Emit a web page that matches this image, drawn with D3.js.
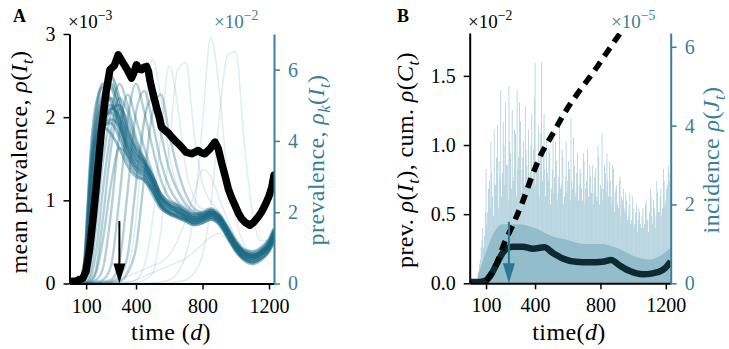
<!DOCTYPE html>
<meta charset="utf-8">
<script src="https://d3js.org/d3.v7.min.js"></script>
<style>
  body { margin: 0; background: white; }
  svg { font-family: 'Liberation Serif', 'Times New Roman', serif; }
  .tick text { font-size: 20px; }
  .domain { stroke-width: 2px; }
  .tick line { stroke-width: 1.5px; }
</style>
<div id="chart"></div>
<script>
// ---------- data ----------
// panel A: mean prevalence rho(I_t), x10^-3
const meanDays = [0,40,60,80,100,120,140,160,192,220,243,270,293,308,323,345,373,390,403,418,433,448,463,475,483,500,523,540,553,575,594,615,634,655,674,700,734,755,774,795,814,845,875,895,915,935,955,975,995,1015,1035,1060,1085,1110,1135,1155,1176,1196,1216,1230];
const meanPrev = [0.02,0.03,0.05,0.06,0.15,0.4,0.75,1.15,1.84,2.3,2.57,2.62,2.75,2.7,2.65,2.58,2.47,2.55,2.63,2.58,2.57,2.6,2.61,2.55,2.45,2.3,2.12,2.0,1.88,1.84,1.81,1.76,1.72,1.68,1.64,1.58,1.56,1.58,1.60,1.57,1.56,1.62,1.70,1.62,1.45,1.3,1.14,1.03,0.94,0.85,0.78,0.73,0.70,0.74,0.80,0.86,0.94,1.03,1.15,1.3];

// panel A: single runs rho_k(I_t), x10^-2, sampled at runDays
const runDays = [0,60,90,110,130,160,200,250,300,350,400,450,500,550,600,650,700,750,800,850,900,950,1000,1050,1100,1150,1200,1230];
const runsEarly = [
  [0,0.05,0.4,1.5,3.0,4.2,5.0,5.2,4.6,3.9,3.5,3.3,2.8,2.3,2.1,2.0,1.9,1.8,1.85,1.95,1.8,1.4,1.0,0.8,0.75,0.85,1.1,1.4],
  [0,0.05,0.3,1.2,2.6,3.9,4.6,4.8,4.3,3.6,3.2,3.0,2.6,2.2,2.0,1.9,1.8,1.7,1.75,1.85,1.7,1.3,0.95,0.7,0.65,0.8,1.0,1.3],
  [0,0.1,0.6,2.0,3.5,4.8,5.6,5.5,4.8,4.0,3.6,3.4,3.0,2.5,2.3,2.2,2.05,1.95,2.0,2.1,1.95,1.6,1.2,0.95,0.9,1.0,1.25,1.55],
  [0,0.02,0.2,0.8,2.0,3.4,4.3,4.6,4.4,3.8,3.3,3.1,2.7,2.2,2.0,1.9,1.8,1.7,1.8,1.9,1.75,1.35,0.95,0.7,0.6,0.7,0.95,1.2],
  [0,0.05,0.4,1.6,3.1,4.4,5.2,5.8,5.2,4.3,3.8,3.5,3.0,2.4,2.2,2.1,2.0,1.85,1.9,2.0,1.9,1.5,1.1,0.85,0.8,0.9,1.15,1.5],
  [0,0.03,0.25,1.0,2.2,3.6,4.5,4.9,4.7,4.1,3.5,3.2,2.8,2.3,2.1,2.0,1.85,1.75,1.8,1.9,1.8,1.45,1.05,0.8,0.7,0.8,1.05,1.35],
  [0,0.05,0.5,1.8,3.2,4.1,4.4,4.2,3.8,3.3,3.0,2.9,2.5,2.1,1.95,1.85,1.75,1.65,1.7,1.8,1.65,1.3,0.9,0.65,0.55,0.65,0.9,1.15],
  [0,0.08,0.6,2.2,3.8,5.0,5.5,5.1,4.5,3.8,3.4,3.2,2.9,2.4,2.2,2.1,1.95,1.85,1.9,2.0,1.85,1.5,1.15,0.9,0.85,0.95,1.2,1.5],
  [0,0.02,0.15,0.6,1.6,3.0,4.2,4.9,5.0,4.4,3.7,3.3,2.9,2.4,2.15,2.05,1.9,1.8,1.85,1.95,1.85,1.5,1.1,0.85,0.75,0.85,1.1,1.45],
  [0,0.04,0.35,1.3,2.7,4.0,4.8,5.0,4.5,3.7,3.3,3.1,2.7,2.2,2.0,1.95,1.85,1.75,1.8,1.9,1.75,1.4,1.0,0.75,0.7,0.8,1.05,1.35],
  [0,0.06,0.45,1.7,3.3,4.5,5.3,5.6,5.0,4.2,3.7,3.4,3.0,2.5,2.25,2.15,2.0,1.9,1.95,2.05,1.9,1.55,1.15,0.9,0.8,0.9,1.15,1.45],
  [0,0.03,0.3,1.1,2.4,3.7,4.4,4.5,4.1,3.5,3.1,2.9,2.6,2.15,1.95,1.85,1.75,1.65,1.7,1.8,1.7,1.35,0.95,0.7,0.6,0.7,0.95,1.25]
];
const runsMid = [
  [0,0,0.02,0.05,0.1,0.4,1.8,3.8,4.9,4.6,3.9,3.4,2.9,2.4,2.2,2.0,1.9,1.8,1.85,1.95,1.8,1.45,1.05,0.8,0.7,0.8,1.0,1.3],
  [0,0,0,0.02,0.05,0.1,0.4,2.0,4.2,5.3,4.6,3.8,3.1,2.5,2.2,2.1,1.95,1.85,1.9,2.0,1.85,1.5,1.1,0.85,0.75,0.85,1.1,1.4],
  [0,0,0,0,0.02,0.05,0.1,0.5,2.4,4.6,5.6,4.8,3.8,2.9,2.4,2.2,2.0,1.9,1.9,2.0,1.9,1.5,1.1,0.85,0.8,0.9,1.15,1.45],
  [0,0,0,0,0,0.02,0.05,0.1,0.6,2.6,4.8,5.4,4.5,3.4,2.7,2.3,2.1,1.95,1.95,2.05,1.9,1.55,1.15,0.9,0.8,0.9,1.1,1.4],
  [0,0,0,0,0,0,0.02,0.05,0.2,0.8,2.8,4.6,5.2,4.2,3.2,2.6,2.2,2.0,1.95,2.0,1.85,1.5,1.1,0.85,0.75,0.85,1.05,1.35],
  [0,0,0,0,0,0,0,0.02,0.05,0.3,1.0,3.0,4.8,5.3,4.2,3.2,2.5,2.1,2.0,2.05,1.9,1.55,1.15,0.9,0.8,0.9,1.1,1.4],
  [0,0,0,0.02,0.05,0.3,1.2,2.8,3.8,3.6,3.2,3.0,2.6,2.2,2.0,1.9,1.8,1.7,1.75,1.85,1.7,1.35,0.95,0.7,0.6,0.7,0.9,1.2],
  [0,0,0.02,0.1,0.4,1.6,3.4,4.8,5.6,5.0,4.1,3.5,2.9,2.4,2.2,2.05,1.9,1.8,1.85,1.95,1.8,1.45,1.05,0.8,0.7,0.8,1.05,1.35],
  [0,0,0.01,0.05,0.2,0.9,2.6,4.3,5.2,4.8,4.0,3.4,2.8,2.3,2.1,2.0,1.85,1.75,1.8,1.9,1.75,1.4,1.0,0.75,0.65,0.75,1.0,1.3]
];
const runsLate = [
  [0,0,0,0,0,0,0,0,0,0,0.02,0.1,0.3,1.5,3.8,6.0,6.2,4.2,2.8,2.3,2.0,1.6,1.2,0.9,0.8,0.9,1.1,1.4],
  [0,0,0,0,0,0,0,0,0,0,0,0,0.02,0.05,0.1,0.3,0.8,2.0,4.5,6.9,5.5,3.0,1.8,1.1,0.85,0.9,1.1,1.4],
  [0,0,0,0,0,0,0,0,0,0,0,0,0,0,0.02,0.05,0.1,0.3,0.8,2.2,4.6,6.4,6.5,4.0,2.0,1.2,1.2,1.4],
  [0,0,0,0,0,0,0,0,0,0.02,0.1,0.5,1.8,4.2,6.1,5.0,3.2,2.4,2.1,2.1,1.9,1.5,1.1,0.85,0.75,0.85,1.05,1.35],
  [0,0,0,0,0,0,0,0.02,0.1,0.4,1.8,4.5,6.3,5.2,3.6,2.7,2.3,2.0,1.95,2.0,1.85,1.5,1.1,0.85,0.75,0.85,1.05,1.35],
  [0,0,0,0,0,0,0,0,0.02,0.05,0.1,0.2,0.3,0.4,0.5,0.6,0.7,0.9,1.1,1.3,1.4,1.2,1.0,0.8,0.7,0.8,1.0,1.3],
  [0,0,0,0,0,0,0.02,0.05,0.1,0.2,0.3,0.4,0.5,0.6,0.8,1.2,1.8,2.5,3.2,3.0,2.4,1.8,1.3,1.0,0.85,0.9,1.1,1.4]
];
const arrowA = {day: 300, from: 0.75};

// panel B: prevalence rho(I_t) and cumulative rho(C_t), x10^-2
const prevDays = [0,60,100,130,161,202,230,263,324,386,457,508,569,650,732,814,865,916,977,1059,1120,1181,1222,1230];
const prevB = [0.01,0.01,0.02,0.06,0.13,0.22,0.255,0.265,0.265,0.25,0.26,0.22,0.18,0.156,0.152,0.156,0.168,0.13,0.09,0.065,0.072,0.096,0.145,0.16];
const cumDays = [100,160,212,263,324,386,436,508,590,671,753,834,916,1000];
const cumB = [0.02,0.13,0.29,0.42,0.59,0.79,0.93,1.08,1.25,1.39,1.52,1.66,1.80,1.93];

// panel B: incidence rho(J_t), x10^-5, two interleaved samplings (days 50,60,.. and 55,65,..)
const incDays = d3.range(50, 1231, 10);
const incidence = [
  0.2,0.5,0.9,1.4,1.2,
  2.9,1.8,2.6,3.6,2.2,3.9,
  2.5,4.0,3.1,4.9,2.8,3.5,4.6,3.0,5.0,3.3,
  4.4,2.7,3.8,4.9,3.2,4.1,2.9,3.6,4.5,3.0,
  3.9,2.8,4.3,3.4,5.6,3.1,4.0,3.3,5.6,3.5,
  2.9,3.7,2.6,3.3,2.4,3.9,2.7,3.1,2.3,4.0,
  2.5,3.2,2.2,3.6,2.6,2.9,4.2,2.4,3.0,2.3,
  3.3,2.5,2.8,2.1,3.1,2.4,3.4,2.2,2.7,3.0,
  2.3,2.9,2.1,3.2,2.5,3.8,2.4,2.8,3.3,2.2,
  2.6,2.0,2.9,2.3,2.5,1.9,2.7,2.2,2.4,1.8,
  2.1,1.7,2.3,1.6,1.9,1.5,2.0,1.6,1.8,1.4,
  1.9,1.5,2.1,1.6,1.8,2.2,1.5,1.9,1.7,2.3,
  1.8,2.4,1.9,2.6,2.1,2.5,2.8,2.2
];
const incDays2 = d3.range(55, 1226, 10);
const incidence2 = [
  0.3,0.6,1.1,0.9,1.8,
  1.5,2.4,1.9,2.8,1.7,2.5,
  3.2,1.9,2.7,2.2,4.1,2.5,3.0,2.1,3.6,2.4,
  2.6,3.9,2.2,2.9,4.6,2.3,3.2,2.5,3.4,2.7,
  2.4,3.5,2.6,4.7,2.5,3.0,2.2,3.8,2.6,4.3,
  2.2,2.8,3.4,2.0,2.9,2.3,3.6,2.1,2.7,2.4,
  3.4,2.0,2.7,2.3,3.1,2.1,2.6,3.7,2.2,2.8,
  2.1,2.9,2.4,3.3,2.0,2.6,2.2,3.0,2.3,2.0,
  2.7,2.2,3.5,2.0,2.4,2.1,3.0,2.3,2.6,3.1,
  2.2,3.0,1.8,2.4,2.0,2.6,1.7,2.1,1.9,2.3,
  1.6,2.0,1.5,2.2,1.4,1.8,1.3,1.9,1.5,1.7,
  1.4,2.0,1.6,1.3,2.4,1.7,2.1,1.4,2.6,1.8,
  2.2,1.7,2.9,2.0,2.4,3.0,2.6
];
const floorDays = [50,100,150,200,300,400,500,600,700,800,900,1000,1100,1200,1230];
const incFloor = [0.2,0.8,1.3,1.5,1.5,1.4,1.2,1.1,1.0,1.0,0.9,0.7,0.6,0.8,0.9];
const arrowB = {day: 240, from: 0.445};

const xTicks = [100, 400, 800, 1200];
const ticksA = [0, 1, 2, 3], ticksAk = [0, 2, 4, 6];
const ticksB = [0, 0.5, 1.0, 1.5], ticksBinc = [0, 2, 4, 6];

// ---------- drawing ----------
const teal = "#3a7f98", runTeal = "#1a6a86";

const svg = d3.select("#chart").append("svg")
  .attr("width", 729).attr("height", 349);

// mixed text with italic / sub / sup pieces
function rich(sel, parts, size) {
  let shift = 0;
  parts.forEach(([s, f = ""]) => {
    const ts = sel.append("tspan").text(s);
    let target = 0, fs = size;
    if (f.includes("i")) ts.attr("font-style", "italic");
    if (f.includes("b")) { target = 0.25 * size; fs = size * 0.7; }
    if (f.includes("p")) { target = -0.42 * size; fs = size * 0.72; }
    ts.attr("font-size", fs);
    if (target !== shift) { ts.attr("dy", target - shift); shift = target; }
  });
}

function label(x, y, parts, size, color, rot) {
  const t = svg.append("text")
    .attr("transform", `translate(${x},${y})` + (rot ? " rotate(-90)" : ""))
    .attr("text-anchor", "middle")
    .attr("letter-spacing", 0.4)
    .attr("fill", color);
  rich(t, parts, size);
  return t;
}

function styleAxis(g, color) {
  g.select(".domain").attr("stroke", color);
  g.selectAll(".tick line").attr("stroke", color);
  g.selectAll(".tick text").attr("fill", color).attr("font-family", "'Liberation Serif', serif");
}

function arrow(g, x, y0, y1, color) {
  g.append("line").attr("x1", x).attr("x2", x).attr("y1", y0).attr("y2", y1 - 14)
    .attr("stroke", color).attr("stroke-width", 2);
  g.append("path")
    .attr("d", `M${x - 6},${y1 - 20} L${x + 6},${y1 - 20} L${x},${y1} Z`)
    .attr("fill", color);
}

// ===== panel A =====
const xA = d3.scaleLinear().domain([0, 1230]).range([69.5, 274]);
const yA = d3.scaleLinear().domain([0, 3]).range([283.5, 34]);
const yAk = d3.scaleLinear().domain([0, 7]).range([283.5, 34]);

svg.append("clipPath").attr("id", "clipA").append("rect")
  .attr("x", 69.5).attr("y", 30).attr("width", 204.5).attr("height", 254);

const gA = svg.append("g").attr("clip-path", "url(#clipA)");
const runLine = d3.line().x((v, i) => xA(runDays[i])).y(v => yAk(v)).curve(d3.curveMonotoneX);

gA.selectAll(".late").data(runsLate).join("path")
  .attr("d", runLine).attr("fill", "none")
  .attr("stroke", runTeal).attr("stroke-opacity", 0.13).attr("stroke-width", 1.5);
gA.selectAll(".mid").data(runsMid).join("path")
  .attr("d", runLine).attr("fill", "none")
  .attr("stroke", runTeal).attr("stroke-opacity", 0.32).attr("stroke-width", 2.4);
gA.selectAll(".early").data(runsEarly).join("path")
  .attr("d", runLine).attr("fill", "none")
  .attr("stroke", runTeal).attr("stroke-opacity", 0.45).attr("stroke-width", 3);

const meanLine = d3.line().x((v, i) => xA(meanDays[i])).y(v => yA(v));
gA.append("path").datum(meanPrev).attr("d", meanLine)
  .attr("fill", "none").attr("stroke", "#000").attr("stroke-width", 7.5)
  .attr("stroke-linejoin", "round").attr("stroke-linecap", "round");

arrow(svg, xA(arrowA.day), yA(arrowA.from), yA(0), "#000");

const axA_b = svg.append("g").attr("transform", "translate(0,283.5)")
  .call(d3.axisBottom(xA).tickValues(xTicks).tickFormat(d3.format("d")).tickSize(6).tickSizeOuter(0).tickPadding(9));
styleAxis(axA_b, "#000");
const axA_l = svg.append("g").attr("transform", "translate(69.5,0)")
  .call(d3.axisLeft(yA).tickValues(ticksA).tickFormat(d3.format("d")).tickSize(6).tickSizeOuter(0).tickPadding(8));
styleAxis(axA_l, "#000");
const axA_r = svg.append("g").attr("transform", "translate(274,0)")
  .call(d3.axisRight(yAk).tickValues(ticksAk).tickFormat(d3.format("d")).tickSize(6).tickSizeOuter(0).tickPadding(8));
styleAxis(axA_r, teal);

// ===== panel B =====
const xB = d3.scaleLinear().domain([0, 1230]).range([469.7, 670.7]);
const yB = d3.scaleLinear().domain([0, 1.81]).range([283.3, 33]);
const yBi = d3.scaleLinear().domain([0, 6.35]).range([283.3, 33]);

svg.append("clipPath").attr("id", "clipB").append("rect")
  .attr("x", 469.7).attr("y", 33).attr("width", 201).attr("height", 251);
const gB = svg.append("g").attr("clip-path", "url(#clipB)");

const bw = 0.7;
gB.selectAll(".inc").data(incidence).join("rect")
  .attr("x", (v, i) => xB(incDays[i]) - bw / 2)
  .attr("width", bw)
  .attr("y", v => yBi(v))
  .attr("height", v => yBi(0) - yBi(v))
  .attr("fill", "#a3c8d6");
gB.selectAll(".inc2").data(incidence2).join("rect")
  .attr("x", (v, i) => xB(incDays2[i]) - bw / 2)
  .attr("width", bw)
  .attr("y", v => yBi(v))
  .attr("height", v => yBi(0) - yBi(v))
  .attr("fill", "#a3c8d6");
gB.append("path").datum(incFloor)
  .attr("d", d3.area().x((v, i) => xB(floorDays[i])).y0(yBi(0)).y1(v => yBi(v)).curve(d3.curveMonotoneX))
  .attr("fill", "#94bdcc");

gB.append("path").datum(prevB)
  .attr("d", d3.line().x((v, i) => xB(prevDays[i])).y(v => yB(v)).curve(d3.curveMonotoneX))
  .attr("fill", "none").attr("stroke", "#0e2a31").attr("stroke-width", 6.5)
  .attr("stroke-linejoin", "round");
gB.append("path").datum(cumB)
  .attr("d", d3.line().x((v, i) => xB(cumDays[i])).y(v => yB(v)).curve(d3.curveMonotoneX))
  .attr("fill", "none").attr("stroke", "#000").attr("stroke-width", 5.5)
  .attr("stroke-dasharray", "10,7");

arrow(svg, xB(arrowB.day), yB(arrowB.from), yB(0), "#2a7894");

const axB_b = svg.append("g").attr("transform", "translate(0,283.3)")
  .call(d3.axisBottom(xB).tickValues(xTicks).tickFormat(d3.format("d")).tickSize(6).tickSizeOuter(0).tickPadding(9));
styleAxis(axB_b, "#000");
const axB_l = svg.append("g").attr("transform", "translate(469.7,0)")
  .call(d3.axisLeft(yB).tickValues(ticksB).tickFormat(d3.format(".1f")).tickSize(6).tickSizeOuter(0).tickPadding(8));
styleAxis(axB_l, "#000");
const axB_r = svg.append("g").attr("transform", "translate(670.7,0)")
  .call(d3.axisRight(yBi).tickValues(ticksBinc).tickFormat(d3.format("d")).tickSize(6).tickSizeOuter(0).tickPadding(8));
styleAxis(axB_r, teal);

// ===== text =====
const ls = 24;
label(27, 162, [["mean prevalence, "], ["ρ", "i"], ["("], ["I", "i"], ["t", "ib"], [")"]], ls, "#000", true);
label(324, 160, [["prevalence, "], ["ρ", "i"], ["k", "ib"], ["("], ["I", "i"], ["t", "ib"], [")"]], ls, teal, true);
label(171, 340, [["time ("], ["d", "i"], [")"]], ls, "#000", false);
label(413, 160, [["prev. "], ["ρ", "i"], ["("], ["I", "i"], ["t", "ib"], ["), cum. "], ["ρ", "i"], ["("], ["C", "i"], ["t", "ib"], [")"]], ls, "#000", true);
label(719, 160, [["incidence "], ["ρ", "i"], ["("], ["J", "i"], ["t", "ib"], [")"]], ls, teal, true);
label(569, 340, [["time("], ["d", "i"], [")"]], ls, "#000", false);

function mult(x, exp, color) {
  const t = svg.append("text").attr("x", x).attr("y", 28).attr("fill", color);
  rich(t, [["×10"], [exp, "p"]], 19);
}
mult(68, "−3", "#000");
mult(214, "−2", teal);
mult(468, "−2", "#000");
mult(611, "−5", teal);

svg.append("text").attr("x", 13).attr("y", 22).attr("font-weight", "bold").attr("font-size", 18).text("A");
svg.append("text").attr("x", 397).attr("y", 22).attr("font-weight", "bold").attr("font-size", 18).text("B");
</script>
